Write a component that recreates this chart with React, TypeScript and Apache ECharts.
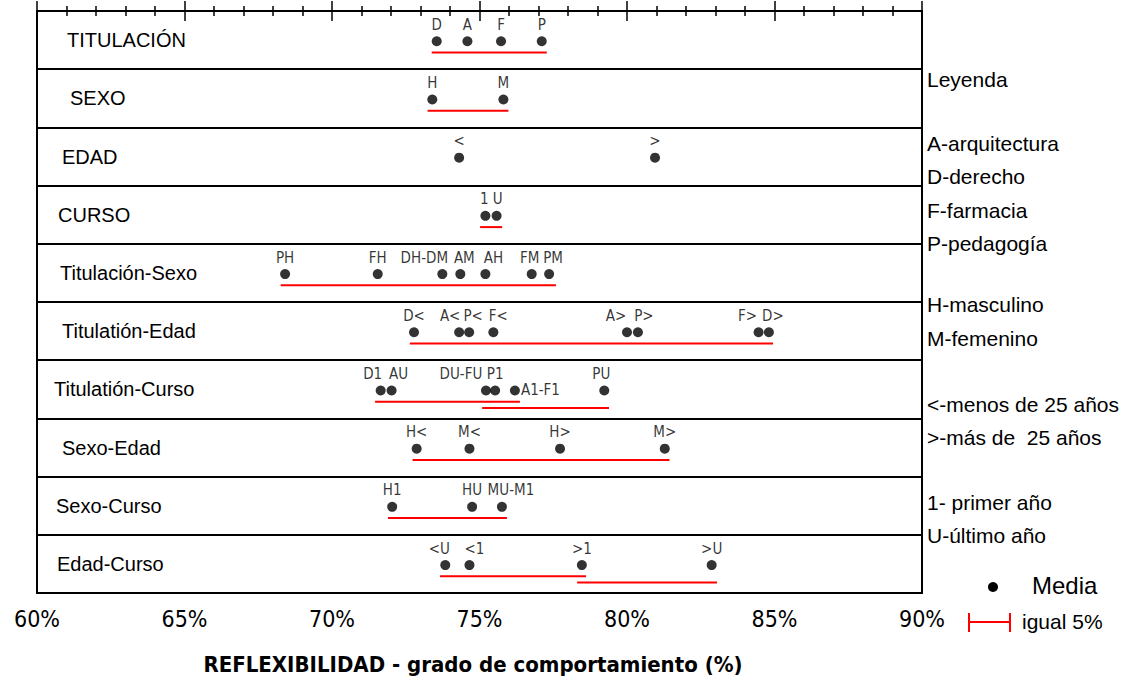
import React, { useEffect, useRef } from "react";
import * as echarts from "echarts";

// ---------- data ----------
const ROW_LABELS = [
  "TITULACIÓN",
  "SEXO",
  "EDAD",
  "CURSO",
  "Titulación-Sexo",
  "Titulatión-Edad",
  "Titulatión-Curso",
  "Sexo-Edad",
  "Sexo-Curso",
  "Edad-Curso",
];

const TITULACION_NAMES = ["D", "A", "F", "P"];
const TITULACION_VALUES = [73.55, 74.59, 75.73, 77.11];
const TITULACION_GROUPS = [[73.38, 77.28]];

const SEXO_NAMES = ["H", "M"];
const SEXO_VALUES = [73.4, 75.81];
const SEXO_GROUPS = [[73.24, 75.98]];

const EDAD_NAMES = ["<", ">"];
const EDAD_VALUES = [74.31, 80.95];
const EDAD_GROUPS: number[][] = [];

const CURSO_NAMES = ["1", "U"];
const CURSO_VALUES = [75.2, 75.58];
const CURSO_GROUPS = [[75.02, 75.77]];

const TIT_SEXO_NAMES = ["PH", "FH", "DH-DM", "AM", "AH", "FM", "PM"];
const TIT_SEXO_VALUES = [68.41, 71.55, 73.74, 74.35, 75.2, 76.77, 77.36];
const TIT_SEXO_GROUPS = [[68.26, 77.59]];

const TIT_EDAD_NAMES = ["D<", "A<", "P<", "F<", "A>", "P>", "F>", "D>"];
const TIT_EDAD_VALUES = [72.78, 74.31, 74.65, 75.47, 80.0, 80.37, 84.46, 84.81];
const TIT_EDAD_GROUPS = [[72.64, 84.95]];

const TIT_CURSO_NAMES = ["D1", "AU", "DU-FU", "P1", "A1-F1", "PU"];
const TIT_CURSO_VALUES = [71.65, 72.02, 75.22, 75.53, 76.2, 79.23];
const TIT_CURSO_GROUPS = [
  [71.46, 76.37],
  [75.09, 79.39],
];

const SEXO_EDAD_NAMES = ["H<", "M<", "H>", "M>"];
const SEXO_EDAD_VALUES = [72.87, 74.66, 77.73, 81.28];
const SEXO_EDAD_GROUPS = [[72.73, 81.44]];

const SEXO_CURSO_NAMES = ["H1", "HU", "MU-M1"];
const SEXO_CURSO_VALUES = [72.04, 74.75, 75.76];
const SEXO_CURSO_GROUPS = [[71.9, 75.93]];

const EDAD_CURSO_NAMES = ["<U", "<1", ">1", ">U"];
const EDAD_CURSO_VALUES = [73.84, 74.66, 78.47, 82.87];
const EDAD_CURSO_GROUPS = [
  [73.66, 78.61],
  [78.31, 83.05],
];

const X_MIN = 60;
const X_MAX = 90;
const X_STEP = 5;

const AXIS_TITLE = "REFLEXIBILIDAD - grado de comportamiento (%)";

const LEGEND_LINES = [
  { text: "Leyenda", y: 81 },
  { text: "A-arquitectura", y: 145 },
  { text: "D-derecho", y: 178 },
  { text: "F-farmacia", y: 212 },
  { text: "P-pedagogía", y: 245 },
  { text: "H-masculino", y: 306 },
  { text: "M-femenino", y: 340 },
  { text: "<-menos de 25 años", y: 406 },
  { text: ">-más de  25 años", y: 439 },
  { text: "1- primer año", y: 504 },
  { text: "U-último año", y: 537 },
];

// ---------- layout (label nudges, px) ----------
const LABEL_NUDGE: Record<string, number> = {
  "3|1": -1,
  "3|U": 1,
  "4|DH-DM": -18,
  "4|AM": 4,
  "4|AH": 8,
  "4|FM": -2,
  "4|PM": 4,
  "5|A<": -9,
  "5|P<": 4,
  "5|F<": 5,
  "5|A>": -11,
  "5|P>": 6,
  "5|F>": -11,
  "5|D>": 4,
  "6|D1": -8,
  "6|AU": 7,
  "6|DU-FU": -25,
  "6|PU": -3,
  "8|MU-M1": 9,
  "9|<U": -6,
  "9|<1": 5,
};
const LABEL_RIGHT = new Set(["6|A1-F1"]);
const ROW_INDENT = [13, 16, 8, 4, 6, 8, 0, 8, 2, 3];

const ROWS = [
  { names: TITULACION_NAMES, values: TITULACION_VALUES, groups: TITULACION_GROUPS },
  { names: SEXO_NAMES, values: SEXO_VALUES, groups: SEXO_GROUPS },
  { names: EDAD_NAMES, values: EDAD_VALUES, groups: EDAD_GROUPS },
  { names: CURSO_NAMES, values: CURSO_VALUES, groups: CURSO_GROUPS },
  { names: TIT_SEXO_NAMES, values: TIT_SEXO_VALUES, groups: TIT_SEXO_GROUPS },
  { names: TIT_EDAD_NAMES, values: TIT_EDAD_VALUES, groups: TIT_EDAD_GROUPS },
  { names: TIT_CURSO_NAMES, values: TIT_CURSO_VALUES, groups: TIT_CURSO_GROUPS },
  { names: SEXO_EDAD_NAMES, values: SEXO_EDAD_VALUES, groups: SEXO_EDAD_GROUPS },
  { names: SEXO_CURSO_NAMES, values: SEXO_CURSO_VALUES, groups: SEXO_CURSO_GROUPS },
  { names: EDAD_CURSO_NAMES, values: EDAD_CURSO_VALUES, groups: EDAD_CURSO_GROUPS },
];

const SANS = '"Liberation Sans", Arial, sans-serif';
const NARROW = '"Liberation Sans Narrow", "DejaVu Sans Condensed", "Liberation Sans", sans-serif';

const DOT_OFFSET = 0.52;
const LINE_OFFSETS = [0.713, 0.82];

function buildOption() {
  const dots: any[] = [];
  const groups: number[][] = [];
  ROWS.forEach((row, r) => {
    row.names.forEach((name, k) => {
      const key = `${r}|${name}`;
      const right = LABEL_RIGHT.has(key);
      dots.push({
        name,
        value: [row.values[k], r + DOT_OFFSET],
        label: right
          ? { position: "right", distance: 1, offset: [0, 0] }
          : { position: "top", distance: 4, offset: [LABEL_NUDGE[key] || 0, 0] },
      });
    });
    row.groups.forEach((g, gi) => {
      groups.push([g[0], g[1], r + LINE_OFFSETS[gi]]);
    });
  });

  const rich: Record<string, any> = {};
  ROW_INDENT.forEach((p, i) => {
    rich["p" + i] = {
      fontSize: 20,
      fontFamily: SANS,
      color: "#000",
      padding: [0, 0, 0, p],
    };
  });

  const axisCommon = {
    type: "value",
    min: X_MIN,
    max: X_MAX,
    interval: X_STEP,
    axisLine: { show: true, lineStyle: { color: "#000", width: 2 } },
    axisTick: { show: true, inside: true, length: 10, lineStyle: { color: "#000", width: 1.5 } },
    minorTick: { show: true, splitNumber: 5, length: 5, lineStyle: { color: "#000", width: 1.5 } },
    splitLine: { show: false },
    minorSplitLine: { show: false },
  };

  const graphics: any[] = LEGEND_LINES.map((l) => ({
    type: "text",
    left: 927,
    top: l.y - 12,
    style: { text: l.text, font: `21px ${SANS}`, fill: "#000" },
  }));
  graphics.push(
    { type: "circle", shape: { cx: 993, cy: 587, r: 5 }, style: { fill: "#000" } },
    {
      type: "text",
      left: 1032,
      top: 587 - 14,
      style: { text: "Media", font: `24px ${SANS}`, fill: "#000" },
    },
    { type: "line", shape: { x1: 969, y1: 622, x2: 1010, y2: 622 }, style: { stroke: "#ff0000", lineWidth: 2 } },
    { type: "line", shape: { x1: 969, y1: 613, x2: 969, y2: 632 }, style: { stroke: "#ff0000", lineWidth: 2 } },
    { type: "line", shape: { x1: 1010, y1: 613, x2: 1010, y2: 632 }, style: { stroke: "#ff0000", lineWidth: 2 } },
    {
      type: "text",
      left: 1022,
      top: 623 - 12,
      style: { text: "igual 5%", font: `21px ${SANS}`, fill: "#000" },
    }
  );

  return {
    animation: false,
    backgroundColor: "#fff",
    grid: {
      left: 37,
      top: 11,
      width: 885,
      height: 582,
      show: true,
      borderColor: "#000",
      borderWidth: 2,
      backgroundColor: "transparent",
    },
    xAxis: [
      {
        ...axisCommon,
        position: "bottom",
        axisLabel: {
          show: true,
          formatter: "{value}%",
          fontSize: 23,
          fontFamily: NARROW,
          color: "#000",
          margin: 14,
        },
        name: AXIS_TITLE,
        nameLocation: "middle",
        nameGap: 60,
        nameTextStyle: {
          fontSize: 22,
          fontWeight: "bold",
          fontFamily: NARROW,
          color: "#000",
          padding: [0, 13, 0, 0],
        },
      },
      {
        ...axisCommon,
        position: "top",
        axisLabel: { show: false },
      },
    ],
    yAxis: [
      {
        type: "value",
        min: 0,
        max: ROW_LABELS.length,
        interval: 1,
        inverse: true,
        position: "left",
        axisLine: { show: true, lineStyle: { color: "#000", width: 2 } },
        axisTick: { show: false },
        axisLabel: { show: false },
        splitLine: { show: true, lineStyle: { color: "#000", width: 2 } },
      },
      {
        type: "category",
        data: ROW_LABELS,
        inverse: true,
        position: "left",
        axisLine: { show: false },
        axisTick: { show: false },
        splitLine: { show: false },
        axisLabel: {
          inside: true,
          margin: 17,
          formatter: (v: string, i: number) => `{p${i}|${v}}`,
          rich,
        },
      },
    ],
    series: [
      {
        type: "custom",
        xAxisIndex: 0,
        yAxisIndex: 0,
        encode: { x: [0, 1], y: 2 },
        data: groups,
        renderItem: (params: any, api: any) => {
          const s = api.coord([api.value(0), api.value(2)]);
          const e = api.coord([api.value(1), api.value(2)]);
          return {
            type: "line",
            shape: { x1: s[0], y1: s[1], x2: e[0], y2: e[1] },
            style: { stroke: "#ff0000", lineWidth: 2 },
          };
        },
        z: 3,
      },
      {
        type: "scatter",
        xAxisIndex: 0,
        yAxisIndex: 0,
        symbol: "circle",
        symbolSize: 10,
        itemStyle: { color: "#000" },
        label: {
          show: true,
          formatter: "{b}",
          fontSize: 15,
          fontFamily: NARROW,
          color: "#000",
        },
        data: dots,
        z: 4,
      },
    ],
    graphic: graphics,
  };
}

export default function App() {
  const ref = useRef<HTMLDivElement>(null);
  useEffect(() => {
    if (!ref.current) return;
    const chart = echarts.init(ref.current, null, { renderer: "svg" });
    chart.setOption(buildOption() as any);
    return () => chart.dispose();
  }, []);
  return (
    <div
      ref={ref}
      style={{ position: "fixed", left: 0, top: 0, width: 1133, height: 682, background: "#fff" }}
    />
  );
}
